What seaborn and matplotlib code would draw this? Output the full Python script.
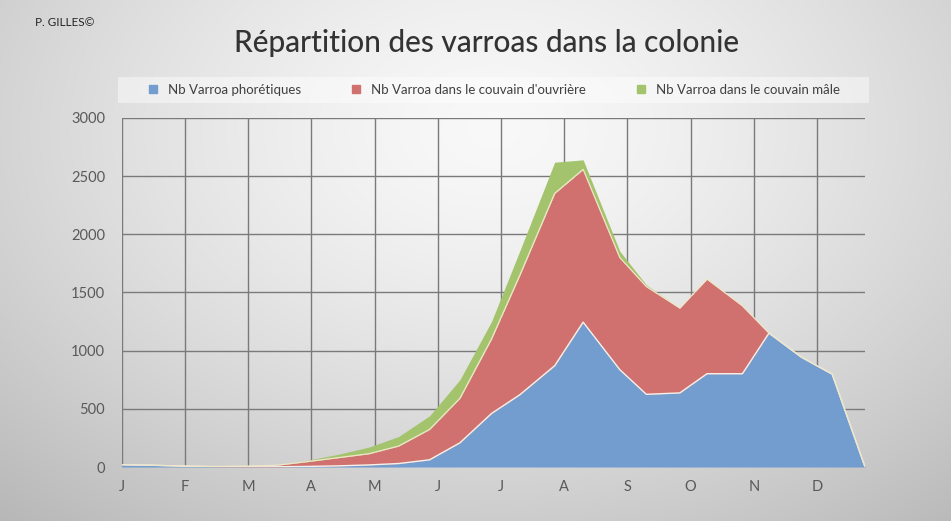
import numpy as np
import pandas as pd
import matplotlib.pyplot as plt
import seaborn as sns
from matplotlib.patches import Rectangle

# ------------------------------------------------------------
# DATA
# ------------------------------------------------------------
month_labels = ["J", "F", "M", "A", "M", "J", "J", "A", "S", "O", "N", "D"]

# sampling dates, expressed in months since 1 January
dates = [0.00, 0.49, 0.98, 1.47, 1.96, 2.45, 2.93, 3.42, 3.91, 4.38,
         4.87, 5.35, 5.85, 6.30, 6.85, 7.30, 7.88, 8.30, 8.83, 9.26,
         9.82, 10.24, 10.75, 11.24, 11.76]

phoretic = [20, 15, 8, 3, 2, 2, 5, 10, 18, 30,
            62, 208, 460, 622, 871, 1245, 837, 625, 637, 802,
            802, 1151, 945, 798, 0]
worker_brood = [0, 0, 0, 2, 6, 13, 41, 70, 96, 150,
                261, 382, 640, 1028, 1481, 1313, 963, 926, 729, 813,
                583, 0, 0, 0, 0]
drone_brood = [0, 0, 0, 0, 0, 1, 11, 29, 57, 82,
               117, 160, 150, 210, 268, 82, 55, 14, 0, 0,
               0, 0, 0, 0, 0]

series_names = ["Nb Varroa phorétiques",
                "Nb Varroa dans le couvain d'ouvrière",
                "Nb Varroa dans le couvain mâle"]
colors = ["#739dcf", "#d0716f", "#a3c46c"]

df = pd.DataFrame({"date": dates,
                   series_names[0]: phoretic,
                   series_names[1]: worker_brood,
                   series_names[2]: drone_brood})

# ------------------------------------------------------------
# STYLE
# ------------------------------------------------------------
sns.set_theme(style="white")
plt.rcParams["font.family"] = ["Lato", "DejaVu Sans"]

fig = plt.figure(figsize=(9.51, 5.21), dpi=100)

# grey radial background like the Office chart
bg = fig.add_axes([0, 0, 1, 1], zorder=-10)
yy, xx = np.mgrid[0:1:300j, 0:1:500j]
r = np.sqrt(((xx - 0.52) / 0.75) ** 2 + ((yy - 0.25) / 0.95) ** 2)
shade = np.clip(0.975 - 0.24 * r ** 1.4, 0.72, 0.98)
bg.imshow(np.dstack([shade] * 3), aspect="auto", extent=[0, 1, 0, 1],
          origin="upper")
bg.axis("off")

ax = fig.add_axes([0.128, 0.1036, 0.7816, 0.670])
ax.set_facecolor("none")

cols = series_names
ax.stackplot(df["date"], *[df[c] for c in cols], colors=colors,
             linewidth=0, zorder=2)

# pale separation lines on top of the lower layers
cum_blue = df[cols[0]]
cum_red = df[cols[0]] + df[cols[1]]
sns.lineplot(x=df["date"], y=cum_blue, color="#f4f1ea", lw=1.0, ax=ax,
             zorder=3)
sns.lineplot(x=df["date"], y=cum_red, color="#efe6c8", lw=0.9, ax=ax,
             zorder=3)

ax.set_xlim(0, dates[-1])
ax.set_ylim(0, 3000)
ax.set_xticks(range(12))
ax.set_xticklabels(month_labels)
ax.set_yticks(range(0, 3001, 500))
ax.set_xlabel("")
ax.set_ylabel("")
ax.grid(True, color="#7a7a7a", lw=1.0, zorder=1)
ax.set_axisbelow(True)
for s in ax.spines.values():
    s.set_visible(False)
ax.tick_params(axis="both", length=0, labelsize=10.5, colors="#595959")
ax.tick_params(axis="x", pad=9)
ax.tick_params(axis="y", pad=12)

# title and signature
fig.text(0.512, 0.918, "Répartition des varroas dans la colonie",
         ha="center", va="center", fontsize=21.5, color="#333333",
         fontweight="medium")
fig.text(0.037, 0.957, "P. GILLES©", ha="left", va="center",
         fontsize=8.5, color="#262626")

# legend band
fig.patches.append(Rectangle((0.124, 1 - 103 / 521), 0.79, 26 / 521,
                             transform=fig.transFigure, facecolor="white",
                             alpha=0.45, edgecolor="none", zorder=0))
handles = [plt.Line2D([], [], marker="s", ls="", color=c, markersize=6)
           for c in colors]
fig.legend(handles, series_names, loc="center", ncol=3,
           bbox_to_anchor=(0.515, 1 - 90 / 521), frameon=False,
           fontsize=9.5, handletextpad=0.1, columnspacing=3.2,
           labelcolor="#404040")

fig.savefig("out.png", dpi=100)
